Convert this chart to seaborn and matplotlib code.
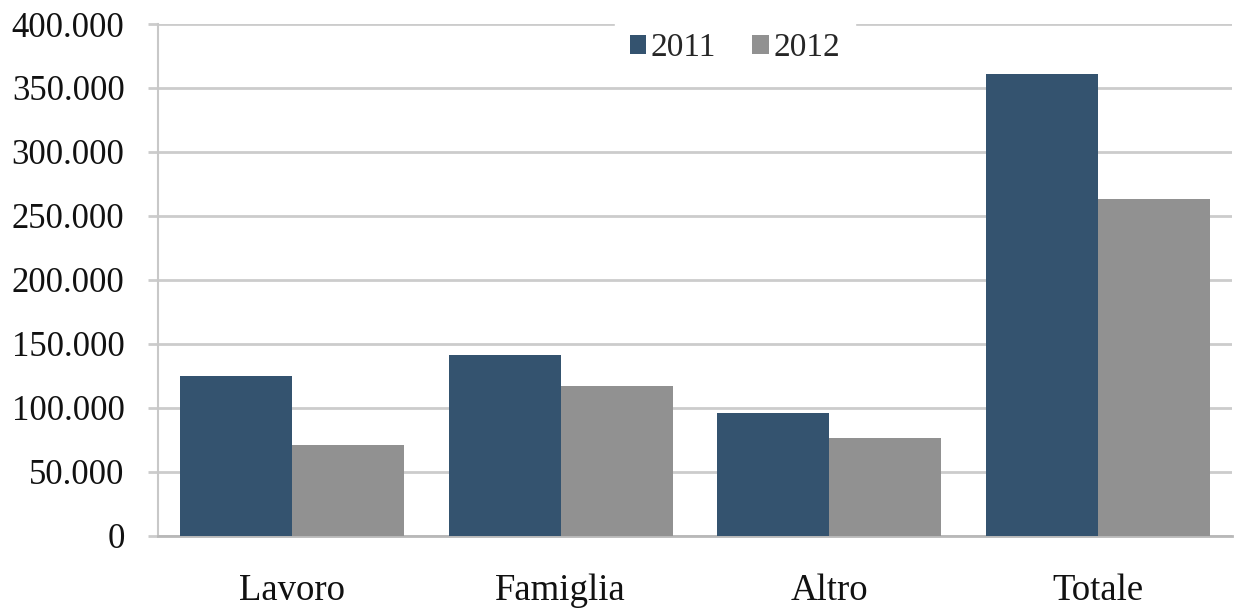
import matplotlib
matplotlib.use("Agg")
import matplotlib.pyplot as plt
import matplotlib.ticker as mticker
from matplotlib.patches import Patch
import seaborn as sns
import pandas as pd

categories = ["Lavoro", "Famiglia", "Altro", "Totale"]
years = ["2011", "2012"]
values_2011 = [124600, 140800, 96000, 361000]
values_2012 = [70700, 116800, 75900, 263400]
colors = {"2011": "#34536F", "2012": "#919191"}

df = pd.DataFrame({
    "cat": categories * 2,
    "year": ["2011"] * 4 + ["2012"] * 4,
    "val": values_2011 + values_2012,
})

sns.set_theme(style="white")
plt.rcParams["font.family"] = ["Liberation Serif", "DejaVu Serif"]

fig = plt.figure(figsize=(12.34, 6.08), dpi=100)
ax = fig.add_axes([0.128, 0.1192, 0.8705, 0.8413])

sns.barplot(data=df, x="cat", y="val", hue="year", palette=colors,
            width=0.835, gap=0, saturation=1, ax=ax, legend=False,
            order=categories, hue_order=years, zorder=3, linewidth=0)

ax.set_xlim(-0.5, 3.5)
ax.set_ylim(0, 400000)
ax.set_yticks(range(0, 400001, 50000))
ax.yaxis.set_major_formatter(mticker.FuncFormatter(
    lambda v, p: "0" if v == 0 else f"{int(v):,}".replace(",", ".")))
ax.grid(axis="y", color="#cccccc", linewidth=2, zorder=0)
ax.set_axisbelow(True)
ax.set_xlabel("")
ax.set_ylabel("")

for s in ["top", "right"]:
    ax.spines[s].set_visible(False)
ax.spines["left"].set_color("#c8c8c8")
ax.spines["left"].set_linewidth(1.5)
ax.spines["bottom"].set_color("#b8b8b8")
ax.spines["bottom"].set_linewidth(2)

ax.tick_params(axis="y", which="major", length=7, width=2, color="#cccccc",
               direction="out", pad=17, labelsize=25, left=True)
ax.tick_params(axis="x", length=0, pad=27, labelsize=26.5)
for lbl in ax.get_yticklabels() + ax.get_xticklabels():
    lbl.set_color("#111111")

handles = [Patch(facecolor=colors[y], edgecolor="none", label=y) for y in years]
leg = ax.legend(handles=handles, loc="center", bbox_to_anchor=(0.537, 0.953),
                ncol=2, frameon=True, fontsize=24, handlelength=0.5,
                handleheight=0.5, handletextpad=0.12, columnspacing=1.1,
                borderpad=0.45, borderaxespad=0)
leg.get_frame().set_facecolor("white")
leg.get_frame().set_edgecolor("white")
leg.get_frame().set_alpha(1)
leg.set_zorder(5)

fig.savefig("out.png", dpi=100)
